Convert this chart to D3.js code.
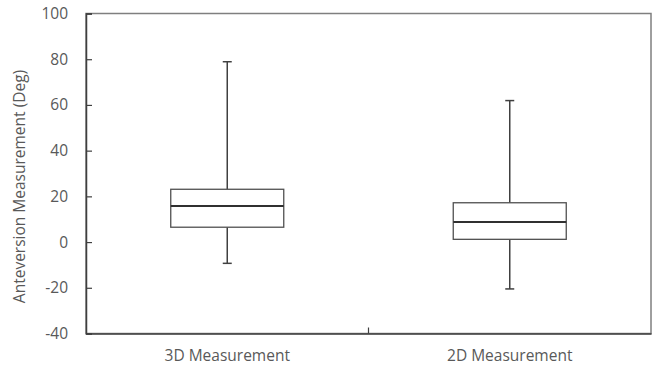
<!DOCTYPE html>
<html>
<head>
<meta charset="utf-8">
<script src="https://cdn.jsdelivr.net/npm/d3@7"></script>
<style>
body{margin:0;background:#fff;}
svg text{font-family:"Open Sans","Noto Sans",sans-serif;fill:#595959;}
</style>
</head>
<body>
<svg id="chart" width="652" height="370"></svg>
<script>
const categories = ["3D Measurement", "2D Measurement"];
const whiskerMin = [-9.3, -20.5];
const q1 = [6.5, 1.2];
const median = [15.8, 8.8];
const q3 = [23.1, 17.2];
const whiskerMax = [78.9, 61.9];
const yTicks = [-40, -20, 0, 20, 40, 60, 80, 100];

const data = categories.map((c, i) => ({cat: c, min: whiskerMin[i], q1: q1[i], med: median[i], q3: q3[i], max: whiskerMax[i]}));

const svg = d3.select("#chart");
const m = {left: 86, right: 1, top: 13.5, bottom: 36.5};
const W = 652, H = 370;
const x = d3.scaleBand().domain(categories).range([m.left, W - m.right]).padding(0);
const y = d3.scaleLinear().domain([-40, 100]).range([H - m.bottom, m.top]);

const stroke = "#404040";
const fontFam = "'Open Sans','Noto Sans',sans-serif";

// frame
svg.append("rect").attr("x", m.left).attr("y", m.top)
  .attr("width", W - m.right - m.left).attr("height", H - m.bottom - m.top)
  .attr("fill", "none").attr("stroke", "#7f7f7f").attr("stroke-width", 1.5);

// y axis
const yAxis = svg.append("g").attr("transform", `translate(${m.left},0)`)
  .call(d3.axisLeft(y).tickValues(yTicks).tickSize(-6).tickPadding(18).tickFormat(d => String(d)));
yAxis.select(".domain").attr("stroke", "#3f3f3f").attr("stroke-width", 1.5);
yAxis.selectAll(".tick line").attr("stroke", "#3f3f3f").attr("stroke-width", 1.2);
yAxis.selectAll(".tick text").attr("font-size", 15.5).attr("fill", "#595959")
  .style("font-family", fontFam);

// x axis
const xAxis = svg.append("g").attr("transform", `translate(0,${H - m.bottom})`)
  .call(d3.axisBottom(x).tickSize(0).tickPadding(16));
xAxis.select(".domain").attr("stroke", "#3f3f3f").attr("stroke-width", 1.5);
xAxis.selectAll(".tick text").attr("font-size", 15.5).attr("fill", "#595959")
  .style("font-family", fontFam);
// inner divider tick between categories
svg.append("line")
  .attr("x1", x(categories[1])).attr("x2", x(categories[1]))
  .attr("y1", y(-40)).attr("y2", y(-40) - 6)
  .attr("stroke", "#3f3f3f").attr("stroke-width", 1.2);

// y label
svg.append("text")
  .attr("transform", `translate(25,${(y(100) + y(-40)) / 2 + 13}) rotate(-90)`)
  .attr("text-anchor", "middle").attr("font-size", 15.5)
  .style("font-family", fontFam)
  .text("Anteversion Measurement (Deg)");

// boxes
const bw = x.bandwidth() * 0.4;
const capW = 9;
const g = svg.append("g").selectAll("g").data(data).join("g")
  .attr("transform", d => `translate(${x(d.cat) + x.bandwidth() / 2},0)`);

g.append("line").attr("x1", 0).attr("x2", 0)
  .attr("y1", d => y(d.max)).attr("y2", d => y(d.q3))
  .attr("stroke", stroke).attr("stroke-width", 1.5);
g.append("line").attr("x1", 0).attr("x2", 0)
  .attr("y1", d => y(d.q1)).attr("y2", d => y(d.min))
  .attr("stroke", stroke).attr("stroke-width", 1.5);
g.append("line").attr("x1", -capW / 2).attr("x2", capW / 2)
  .attr("y1", d => y(d.max)).attr("y2", d => y(d.max))
  .attr("stroke", stroke).attr("stroke-width", 1.5);
g.append("line").attr("x1", -capW / 2).attr("x2", capW / 2)
  .attr("y1", d => y(d.min)).attr("y2", d => y(d.min))
  .attr("stroke", stroke).attr("stroke-width", 1.5);
g.append("rect").attr("x", -bw / 2).attr("width", bw)
  .attr("y", d => y(d.q3)).attr("height", d => y(d.q1) - y(d.q3))
  .attr("fill", "#fff").attr("stroke", "#505050").attr("stroke-width", 1.3);
g.append("line").attr("x1", -bw / 2).attr("x2", bw / 2)
  .attr("y1", d => y(d.med)).attr("y2", d => y(d.med))
  .attr("stroke", "#303030").attr("stroke-width", 2);
</script>
</body>
</html>
